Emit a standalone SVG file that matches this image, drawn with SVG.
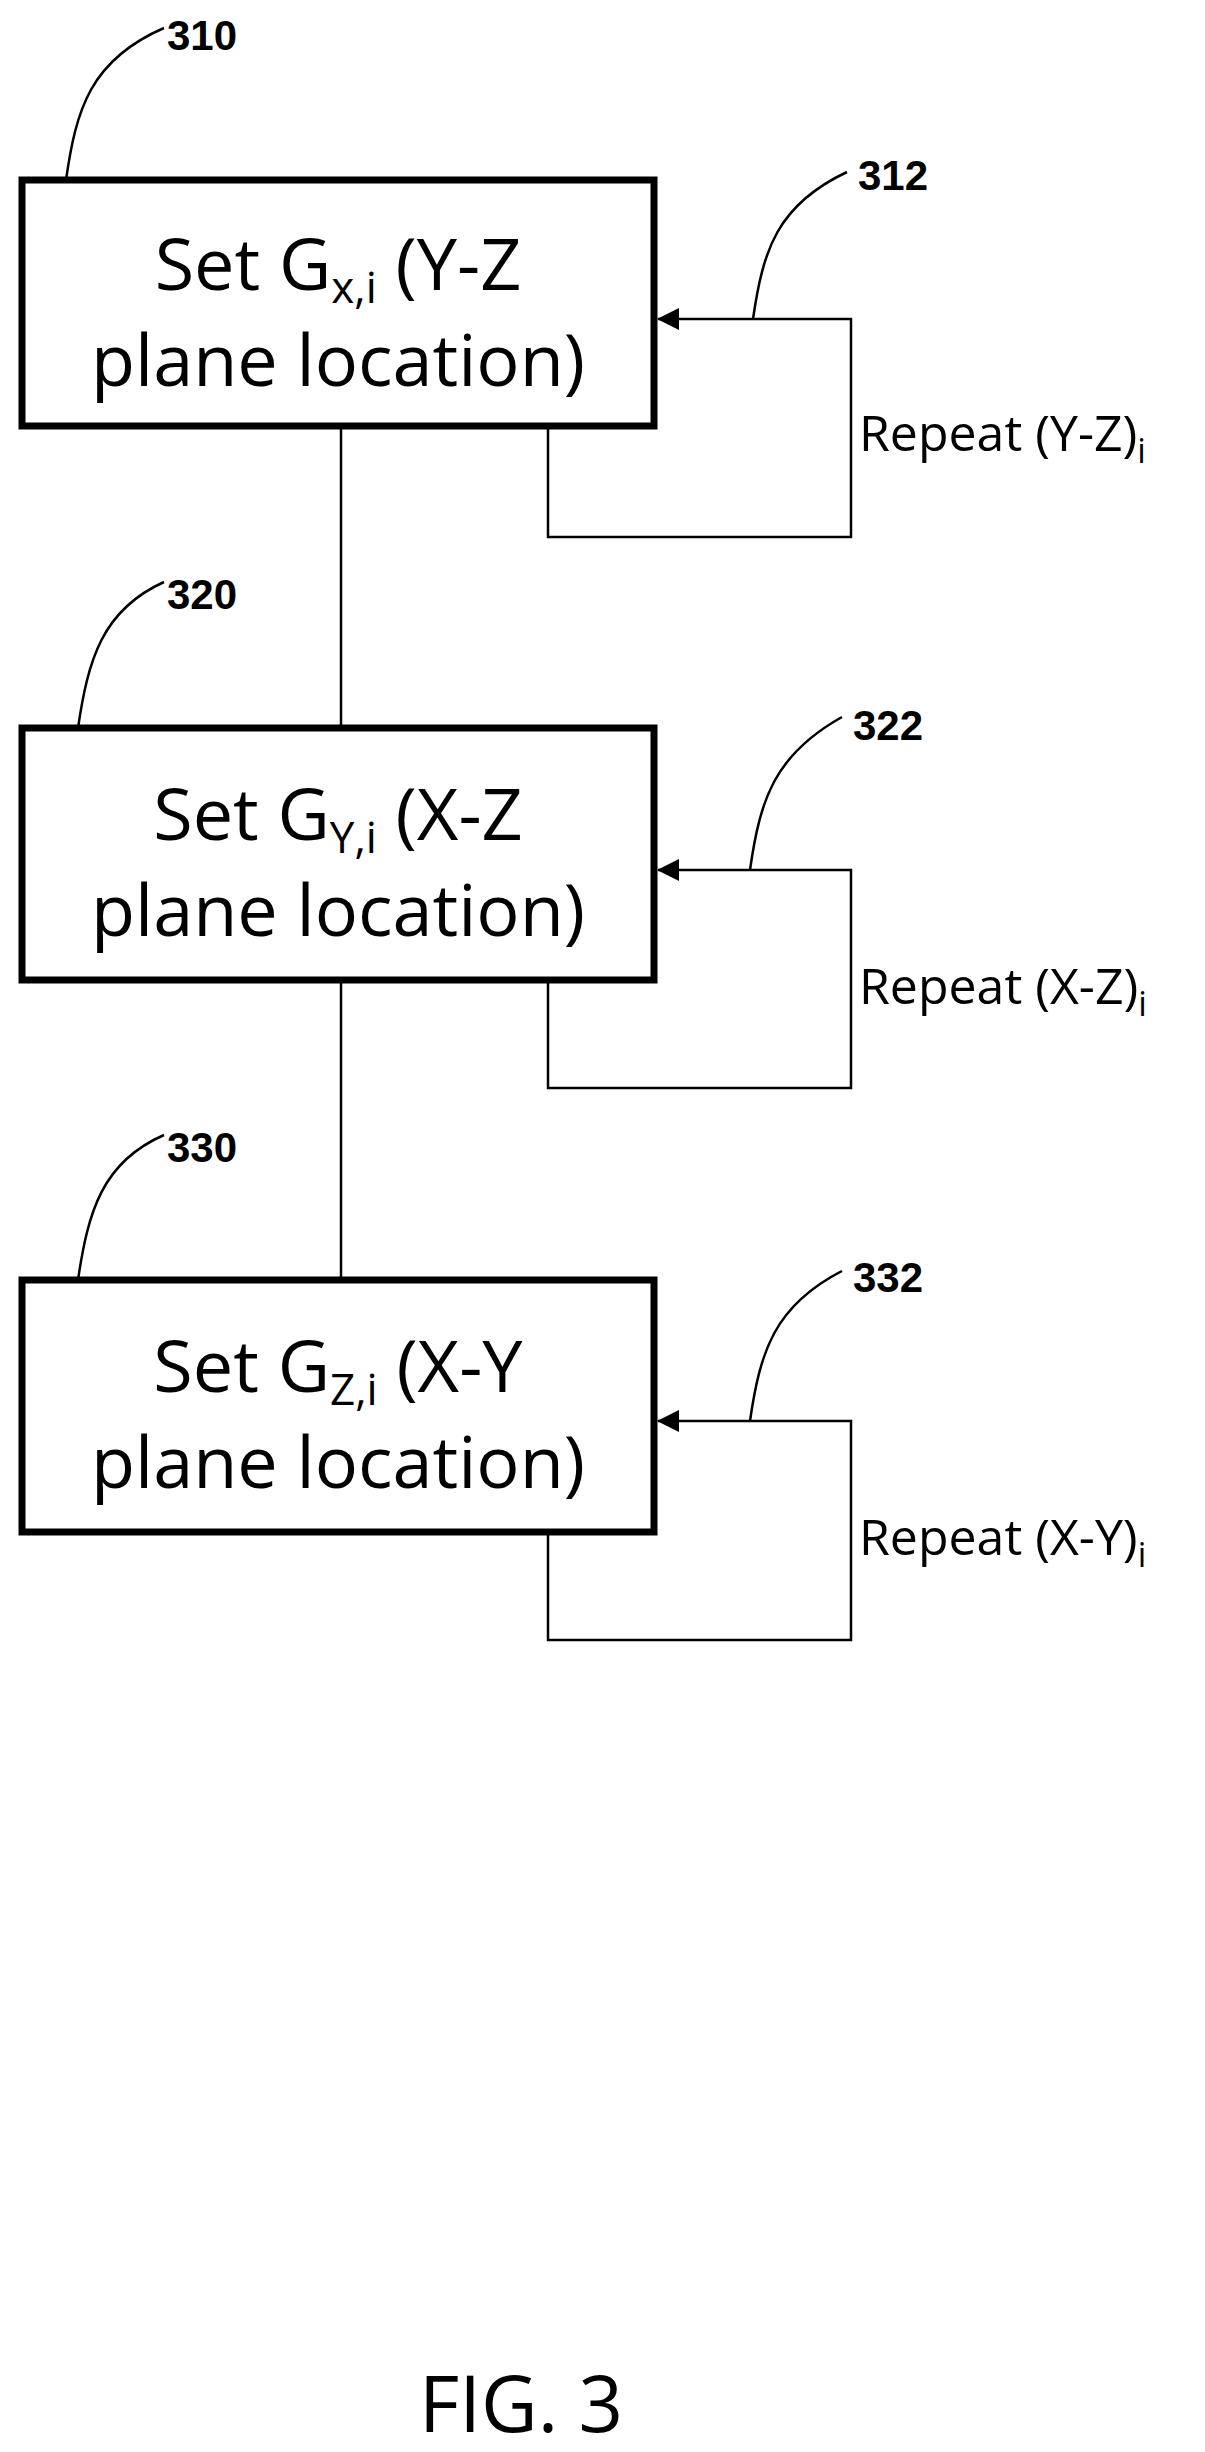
<svg xmlns="http://www.w3.org/2000/svg" width="1205" height="2452" viewBox="0 0 1205 2452">
<style>
.box{fill:#fff;stroke:#000;stroke-width:7}
.t{font-family:"Open Sans","Liberation Sans",sans-serif;font-size:72px;text-anchor:middle}
.r{font-family:"Open Sans","Liberation Sans",sans-serif;font-size:50px}
.n{font-family:"Liberation Sans",sans-serif;font-weight:bold;font-size:42px}
.ln{fill:none;stroke:#000;stroke-width:2.5}
</style>
<defs><marker id="a" markerWidth="22" markerHeight="22" refX="21" refY="11" orient="auto" markerUnits="userSpaceOnUse" viewBox="0 0 22 22"><path d="M0,0L22,11L0,22z"/></marker></defs>
<rect width="1205" height="2452" fill="#fff"/>
<g id="connectors">
<path class="ln" d="M341,426V728M341,980V1280"/>
<path class="ln" d="M548,426V537H851V319H658" marker-end="url(#a)"/>
<path class="ln" d="M548,980V1088H851V870H658" marker-end="url(#a)"/>
<path class="ln" d="M548,1532V1640H851V1421H658" marker-end="url(#a)"/>
<path class="ln" d="M66,180C76,110 90,60 164,28M78,728C88,660 102,610 164,582M78,1280C88,1212 102,1162 164,1135"/>
<path class="ln" d="M753,319C763,250 777,205 847,172M750,870C760,800 774,755 842,717M750,1421C760,1352 774,1306 842,1271"/>
</g>
<g id="n310"><rect class="box" x="22" y="180" width="632" height="246"/>
<text class="t" x="338" y="290">Set G<tspan font-size="44" dy="13">x,i</tspan><tspan dy="-13"> (Y-Z</tspan></text>
<text class="t" x="338" y="386">plane location)</text>
<text class="n" x="167" y="50">310</text></g>
<g id="n312"><text class="r" x="859" y="451">Repeat (Y-Z)<tspan font-size="34" dy="12">i</tspan></text><text class="n" x="858" y="190">312</text></g>
<g id="n320"><rect class="box" x="22" y="728" width="632" height="252"/>
<text class="t" x="338" y="840">Set G<tspan font-size="44" dy="13">Y,i</tspan><tspan dy="-13"> (X-Z</tspan></text>
<text class="t" x="338" y="936">plane location)</text>
<text class="n" x="167" y="609">320</text></g>
<g id="n322"><text class="r" x="859" y="1004">Repeat (X-Z)<tspan font-size="34" dy="12">i</tspan></text><text class="n" x="853" y="740">322</text></g>
<g id="n330"><rect class="box" x="22" y="1280" width="632" height="252"/>
<text class="t" x="338" y="1392">Set G<tspan font-size="44" dy="13">Z,i</tspan><tspan dy="-13"> (X-Y</tspan></text>
<text class="t" x="338" y="1488">plane location)</text>
<text class="n" x="167" y="1162">330</text></g>
<g id="n332"><text class="r" x="859" y="1555">Repeat (X-Y)<tspan font-size="34" dy="12">i</tspan></text><text class="n" x="853" y="1292">332</text></g>
<text x="521" y="2432" font-family="Open Sans,Liberation Sans,sans-serif" font-size="78" text-anchor="middle">FIG. 3</text>
</svg>
